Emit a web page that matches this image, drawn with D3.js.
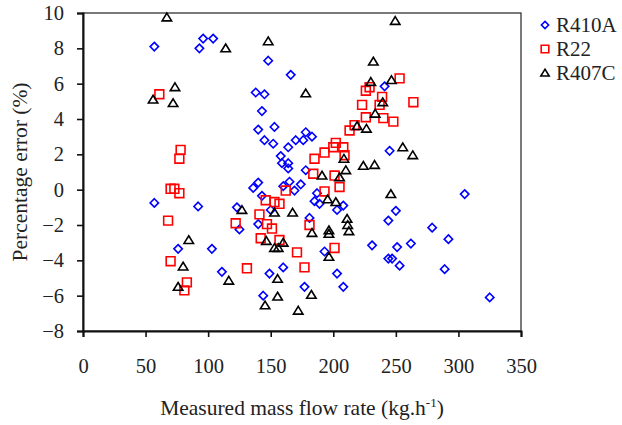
<!DOCTYPE html>
<html lang="en">
<head>
    <meta charset="UTF-8">
    <title>Percentage error vs measured mass flow rate</title>
    <script src="https://cdnjs.cloudflare.com/ajax/libs/d3/7.9.0/d3.min.js"></script>
    <style>
        body {
            margin: 0;
            background: #fff;
            font-family: "Liberation Serif", "Times New Roman", serif;
        }
        .axis-title {
            font-size: 21.5px;
            fill: #222;
        }
        .legend text {
            font-size: 21px;
            fill: #222;
        }
    </style>
</head>
<body>
<div id="chart"></div>
<script>
    // R410A (blue diamonds): [mass flow, % error]
    const r410a = [
        [57, 8.1], [93, 8.0], [96, 8.55], [104, 8.55], [148, 7.3], [166, 6.5],
        [138, 5.5], [145, 5.4], [143, 4.45], [153, 3.55], [140, 3.4], [145, 2.8],
        [152, 2.6], [164, 2.4], [170, 2.8], [176, 2.8], [178, 3.25], [183, 3.0],
        [158, 1.9], [159, 1.5], [164, 1.5], [164, 1.2], [178, 1.1], [140, 0.4],
        [136, 0.1], [143, -0.35], [160, 0.2], [165, 0.45], [169, -0.05], [174, 0.3],
        [185, -0.65], [189, -0.8], [187, -0.2], [203, -1.15], [208, -0.9], [181, -1.6],
        [57, -0.75], [92, -0.95], [123, -1.0], [150, -1.15], [125, -2.25], [140, -1.95],
        [76, -3.35], [103, -3.35], [111, -4.65], [144, -6.0], [149, -4.75], [160, -4.4],
        [177, -5.5], [193, -3.5], [203, -4.75], [208, -5.5], [241, 5.85], [245, 2.2],
        [305, -0.25], [250, -1.2], [244, -1.75], [279, -2.15], [292, -2.8], [231, -3.15],
        [262, -3.05], [251, -3.25], [244, -3.9], [247, -3.9], [253, -4.3], [289, -4.5],
        [325, -6.1]
    ];

    // R22 (red squares)
    const r22 = [
        [61, 5.4], [78, 2.25], [77, 1.75], [70, 0.05], [73, 0.05], [77, -0.2],
        [68, -1.75], [70, -4.05], [83, -5.25], [81, -5.7], [122, -1.9], [131, -4.45],
        [141, -1.4], [142, -2.75], [147, -1.95], [151, -2.2], [146, -0.6], [153, -0.7],
        [157, -0.8], [157, -2.85], [171, -3.55], [177, -4.4], [181, -2.0], [162, -0.05],
        [184, 0.9], [201, 0.8], [205, 0.15], [193, -0.1], [201, -3.3], [185, 1.75],
        [193, 2.1], [200, 2.4], [202, 2.65], [208, 2.4], [209, 1.95], [213, 3.35],
        [217, 3.65], [223, 4.8], [226, 5.6], [229, 5.8], [226, 4.1], [237, 4.8],
        [240, 4.05], [239, 5.25], [248, 3.85], [253, 6.3], [264, 4.95]
    ];

    // R407C (black triangles)
    const r407c = [
        [67, 9.75], [114, 8.0], [148, 8.4], [73.5, 5.8], [56, 5.1], [72, 4.9],
        [178, 5.45], [127, -1.15], [153, -1.3], [167.5, -1.3], [84.5, -2.85], [80, -4.35],
        [76, -5.5], [116.5, -5.15], [146.5, -2.9], [153, -3.3], [156, -3.3], [160, -3.0],
        [155.5, -5.05], [155.5, -6.05], [145.5, -6.55], [172, -6.85], [182.5, -5.95], [183, -2.45],
        [196.5, -2.3], [196.5, -2.5], [212.5, -2.35], [211, -1.65], [211.5, -2.0], [196.5, -3.8],
        [191, 0.8], [205, 0.7], [210, 1.1], [195.5, -0.55], [202, -0.7], [224, 1.35],
        [233, 1.4], [232, 7.25], [230, 6.1], [239.5, 4.95], [233.5, 4.3], [219, 3.6],
        [226.5, 3.45], [208.5, 1.75], [249.5, 9.55], [246.5, 6.2], [255.5, 2.4], [263.5, 1.95],
        [246, -0.25]
    ];

    const xTicks = [0, 50, 100, 150, 200, 250, 300, 350];
    const yTicks = [-8, -6, -4, -2, 0, 2, 4, 6, 8, 10];

    const width = 622;
    const height = 425;
    const margin = { top: 13, right: 101, bottom: 94, left: 83 };

    const svg = d3.select("#chart")
        .append("svg")
        .attr("width", width)
        .attr("height", height);

    const x = d3.scaleLinear()
        .domain([0, 350])
        .range([margin.left, width - margin.right]);

    const y = d3.scaleLinear()
        .domain([-8, 10])
        .range([height - margin.bottom, margin.top]);

    // marker shapes, centred on 0,0
    const diamond = s => `M0,${-s}L${s},0L0,${s}L${-s},0Z`;
    const square = s => `M${-s},${-s}H${s}V${s}H${-s}Z`;
    const triangle = s => `M0,${-s}L${s * 1.1},${s * 0.8}H${-s * 1.1}Z`;

    const series = [
        { name: "R410A", data: r410a, color: "#0000ff", shape: diamond, size: 4.2, legendSize: 3.6 },
        { name: "R22", data: r22, color: "#ff0000", shape: square, size: 4.4, legendSize: 3.8 },
        { name: "R407C", data: r407c, color: "#000000", shape: triangle, size: 4.3, legendSize: 3.8 }
    ];

    // plot frame
    svg.append("rect")
        .attr("x", x(0))
        .attr("y", y(10))
        .attr("width", x(350) - x(0))
        .attr("height", y(-8) - y(10))
        .attr("fill", "none")
        .attr("stroke", "#333")
        .attr("stroke-width", 1.3);

    // axes
    const xAxis = svg.append("g")
        .attr("transform", `translate(0,${y(-8)})`)
        .call(d3.axisBottom(x).tickValues(xTicks).tickSize(6).tickPadding(21));

    const yAxis = svg.append("g")
        .attr("transform", `translate(${x(0)},0)`)
        .call(d3.axisLeft(y).tickValues(yTicks).tickSize(6).tickPadding(13));

    [xAxis, yAxis].forEach(a => {
        a.attr("font-size", 20.5);
        a.select(".domain").attr("stroke", "#111").attr("stroke-width", 2);
        a.selectAll(".tick line").attr("stroke", "#111").attr("stroke-width", 1.6);
        a.selectAll(".tick text")
            .attr("fill", "#222")
            .style("font-family", '"Liberation Serif", "Times New Roman", serif');
    });

    // points
    series.forEach(s => {
        svg.append("g")
            .selectAll("path")
            .data(s.data)
            .enter()
            .append("path")
            .attr("transform", d => `translate(${x(d[0])},${y(d[1])})`)
            .attr("d", s.shape(s.size))
            .attr("fill", "none")
            .attr("stroke", s.color)
            .attr("stroke-width", 1.6);
    });

    // axis titles
    svg.append("text")
        .attr("class", "axis-title")
        .attr("x", (x(0) + x(350)) / 2)
        .attr("y", 415)
        .attr("text-anchor", "middle")
        .html('Measured mass flow rate (kg.h<tspan dy="-8" font-size="13">-1</tspan><tspan dy="8">)</tspan>');

    svg.append("text")
        .attr("class", "axis-title")
        .attr("transform", `translate(27,${(y(10) + y(-8)) / 2}) rotate(-90)`)
        .attr("text-anchor", "middle")
        .text("Percentage error (%)");

    // legend
    const legend = svg.append("g")
        .attr("class", "legend")
        .attr("transform", "translate(545,25)");

    series.forEach((s, i) => {
        const row = legend.append("g").attr("transform", `translate(0,${i * 24})`);
        row.append("path")
            .attr("d", s.shape(s.legendSize))
            .attr("fill", "none")
            .attr("stroke", s.color)
            .attr("stroke-width", 1.6);
        row.append("text")
            .attr("x", 11)
            .attr("y", 7)
            .text(s.name);
    });
</script>
</body>
</html>
